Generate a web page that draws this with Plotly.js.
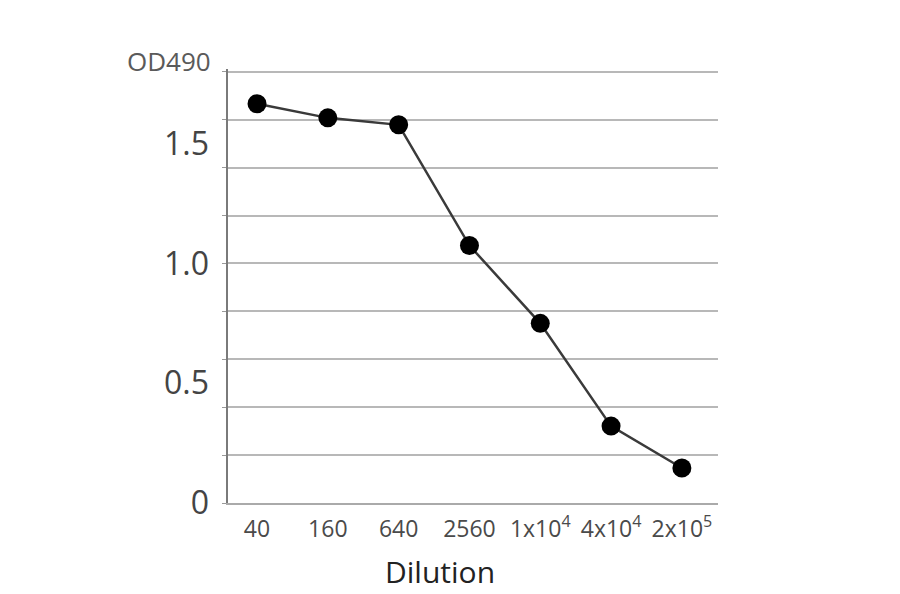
<!DOCTYPE html>
<html>
<head>
<meta charset="utf-8">
<script src="https://cdn.plot.ly/plotly-3.0.1.min.js"></script>
<style>
  html, body { margin: 0; padding: 0; background: #fff; }
  #chart { width: 900px; height: 594px; }
</style>
</head>
<body>
<div id="chart"></div>
<script>
const dilutions = ['40', '160', '640', '2560', '1x10<sup>4</sup>', '4x10<sup>4</sup>', '2x10<sup>5</sup>']
const od490 = [1.667, 1.608, 1.579, 1.075, 0.75, 0.321, 0.146]
const yTickVals = [0, 0.5, 1.0, 1.5]
const yTickText = ['0', '0.5', '1.0', '1.5']

const font = '"Open Sans", "Noto Sans", sans-serif'

let trace = {
  x: dilutions,
  y: od490,
  type: 'scatter',
  mode: 'lines+markers',
  line: { color: '#3a3a3a', width: 2.5 },
  marker: { color: '#000', size: 19 },
  hoverinfo: 'skip',
}

let layout = {
  width: 900,
  height: 594,
  margin: { l: 228, r: 182, t: 69, b: 91 },
  paper_bgcolor: '#fff',
  plot_bgcolor: '#fff',
  showlegend: false,
  font: { family: font },
  xaxis: {
    type: 'category',
    range: [-0.41, 6.51],
    showgrid: false,
    zeroline: false,
    showline: true,
    linecolor: '#aaa',
    linewidth: 2,
    ticks: '',
    ticklabelstandoff: 4,
    tickfont: { size: 23, color: '#4a4a4a' },
  },
  // grid axis: lines every 0.2
  yaxis: {
    range: [0, 1.812],
    dtick: 0.2,
    showgrid: true,
    gridcolor: '#b8b8b8',
    gridwidth: 2,
    zeroline: false,
    showline: true,
    linecolor: '#7a7a7a',
    linewidth: 2,
    ticks: 'outside',
    ticklen: 4,
    tickcolor: '#999',
    showticklabels: false,
  },
  // label axis: 0, 0.5, 1.0, 1.5
  yaxis2: {
    overlaying: 'y',
    side: 'left',
    range: [0, 1.812],
    tickvals: yTickVals,
    ticktext: yTickText,
    showgrid: false,
    zeroline: false,
    showline: false,
    ticks: '',
    ticklabelstandoff: 18,
    tickfont: { size: 32, color: '#444' },
  },
  annotations: [
    {
      text: 'OD490',
      xref: 'paper',
      yref: 'paper',
      x: -0.03,
      y: 1.0,
      xanchor: 'right',
      yanchor: 'bottom',
      yshift: -12,
      showarrow: false,
      font: { size: 26, color: '#5a5a5a' },
    },
    {
      text: 'Dilution',
      xref: 'paper',
      yref: 'paper',
      x: 0.433,
      y: 0,
      xanchor: 'center',
      yanchor: 'top',
      yshift: -46,
      showarrow: false,
      font: { size: 30, color: '#222' },
    },
  ],
}

// invisible trace so the label axis is drawn
let labelTrace = {
  x: [dilutions[0]],
  y: [0],
  yaxis: 'y2',
  mode: 'markers',
  marker: { opacity: 0 },
  hoverinfo: 'skip',
}

Plotly.newPlot('chart', [trace, labelTrace], layout, { displayModeBar: false, staticPlot: true })
</script>
</body>
</html>
